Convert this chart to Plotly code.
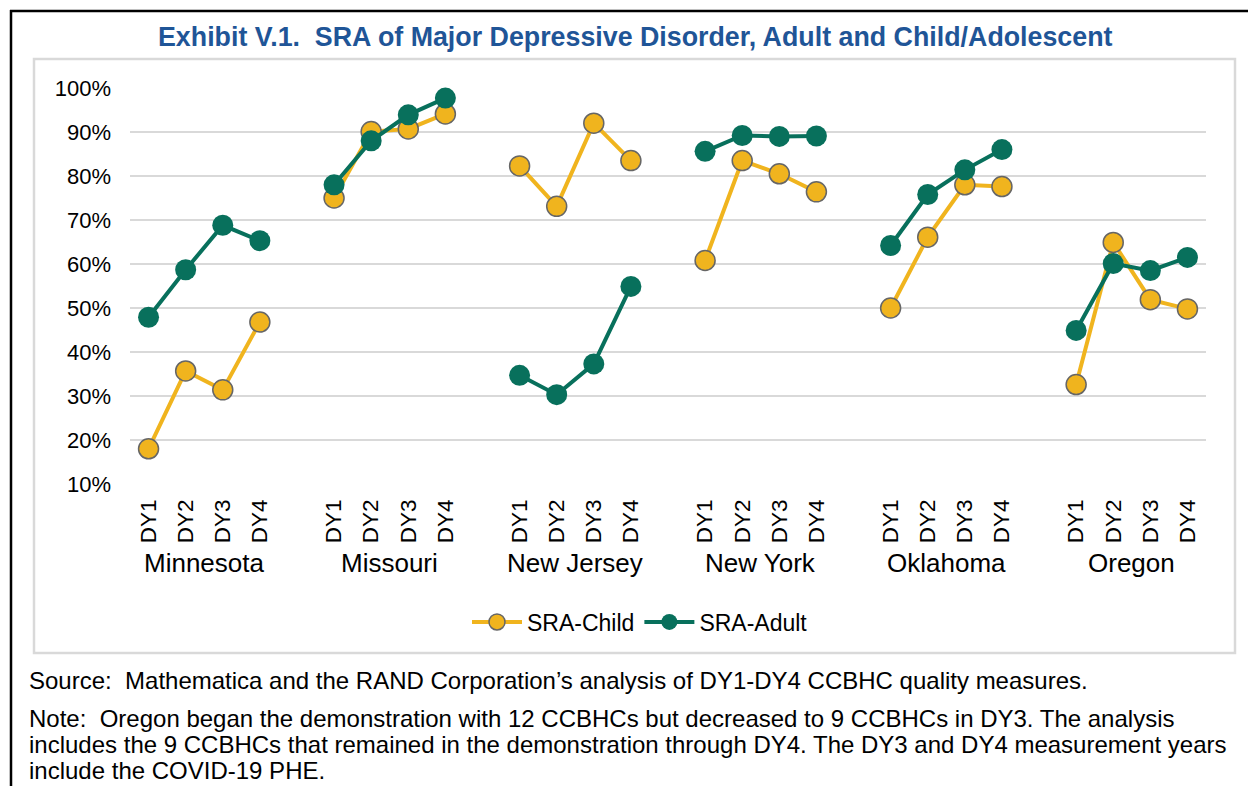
import plotly.graph_objects as go

# ---------------- data ----------------
states = ["Minnesota", "Missouri", "New Jersey", "New York", "Oklahoma", "Oregon"]
years = ["DY1", "DY2", "DY3", "DY4"]
sra_child = {
    "Minnesota": [18.0, 35.7, 31.4, 46.8],
    "Missouri": [75.0, 90.1, 90.7, 94.1],
    "New Jersey": [82.3, 73.1, 92.0, 83.5],
    "New York": [60.8, 83.5, 80.5, 76.4],
    "Oklahoma": [50.0, 66.1, 78.0, 77.6],
    "Oregon": [32.6, 64.9, 51.9, 49.8],
}
sra_adult = {
    "Minnesota": [47.9, 58.7, 68.8, 65.3],
    "Missouri": [78.0, 88.0, 93.9, 97.7],
    "New Jersey": [34.7, 30.3, 37.3, 54.9],
    "New York": [85.6, 89.2, 89.0, 89.1],
    "Oklahoma": [64.2, 75.8, 81.4, 86.0],
    "Oregon": [44.9, 60.1, 58.5, 61.5],
}
y_ticks = [10, 20, 30, 40, 50, 60, 70, 80, 90, 100]
y_tick_labels = ["10%", "20%", "30%", "40%", "50%", "60%", "70%", "80%", "90%", "100%"]

title_text = "Exhibit V.1.  SRA of Major Depressive Disorder, Adult and Child/Adolescent"
source_text = "Source:  Mathematica and the RAND Corporation\u2019s analysis of DY1-DY4 CCBHC quality measures."
note_lines = [
    "Note:  Oregon began the demonstration with 12 CCBHCs but decreased to 9 CCBHCs in DY3. The analysis",
    "includes the 9 CCBHCs that remained in the demonstration through DY4. The DY3 and DY4 measurement years",
    "include the COVID-19 PHE.",
]

# ---------------- layout constants (pixels) ----------------
W, H = 1248, 786
PL, PR, PT, PB = 130, 1206, 88, 484  # plot area edges in px
FONT = "Arial, 'Liberation Sans', sans-serif"
GOLD = "#F0B41E"
GREEN = "#08705C"
GRID = "#D9D9D9"
SLOT = len(years) + 1


def px_x(p):
    return (p - PL) / (PR - PL)


def px_y(p):
    return (PB - p) / (PB - PT)


def build(series):
    xs, ys = [], []
    for si, st in enumerate(states):
        for yi, v in enumerate(series[st]):
            xs.append(si * SLOT + yi)
            ys.append(v)
        xs.append(si * SLOT + len(years))
        ys.append(None)
    return xs, ys


cx, cy = build(sra_child)
ax_, ay = build(sra_adult)

fig = go.Figure()
fig.add_trace(go.Scatter(
    x=cx, y=cy, name="SRA-Child", mode="lines+markers", connectgaps=False,
    line=dict(color=GOLD, width=4),
    marker=dict(size=20, color=GOLD, line=dict(color="#666666", width=1.5)),
    cliponaxis=False,
))
fig.add_trace(go.Scatter(
    x=ax_, y=ay, name="SRA-Adult", mode="lines+markers", connectgaps=False,
    line=dict(color=GREEN, width=4),
    marker=dict(size=21, color=GREEN, line=dict(color=GREEN, width=0)),
    cliponaxis=False,
))

tickvals, ticktext = [], []
for si, st in enumerate(states):
    for yi, yr in enumerate(years):
        tickvals.append(si * SLOT + yi)
        ticktext.append(yr)

annotations = []
for si, st in enumerate(states):
    annotations.append(dict(
        x=si * SLOT + (len(years) - 1) / 2, y=px_y(563), xref="x", yref="paper",
        text=st, showarrow=False, xanchor="center", yanchor="middle",
        font=dict(family=FONT, size=26, color="#000000"),
    ))

annotations.append(dict(
    x=px_x(635), y=px_y(37), xref="paper", yref="paper", text="<b>" + title_text + "</b>",
    showarrow=False, xanchor="center", yanchor="middle",
    font=dict(family=FONT, size=26.8, color="#1F5597"),
))
annotations.append(dict(
    x=px_x(27), y=px_y(680), xref="paper", yref="paper", text=source_text,
    showarrow=False, xanchor="left", yanchor="middle",
    font=dict(family=FONT, size=24, color="#000000"),
))
for i, ln in enumerate(note_lines):
    annotations.append(dict(
        x=px_x(27), y=px_y(718 + 26 * i), xref="paper", yref="paper", text=ln,
        showarrow=False, xanchor="left", yanchor="middle",
        font=dict(family=FONT, size=24, color="#000000"),
    ))

shapes = [
    # inner light-gray chart frame
    dict(type="rect", xref="paper", yref="paper",
         x0=px_x(34), x1=px_x(1235), y0=px_y(653), y1=px_y(59),
         line=dict(color=GRID, width=2.5), fillcolor="rgba(0,0,0,0)", layer="below"),
    # outer black frame (top and left edges visible)
    dict(type="line", xref="paper", yref="paper",
         x0=px_x(10), x1=px_x(1250), y0=px_y(11), y1=px_y(11),
         line=dict(color="#000000", width=2.5)),
    dict(type="line", xref="paper", yref="paper",
         x0=px_x(11), x1=px_x(11), y0=px_y(10), y1=px_y(790),
         line=dict(color="#000000", width=2.5)),
]

fig.update_layout(
    width=W, height=H,
    margin=dict(l=PL, r=W - PR, t=PT, b=H - PB, pad=0),
    paper_bgcolor="white", plot_bgcolor="white",
    font=dict(family=FONT, size=22, color="#000000"),
    showlegend=True,
    legend=dict(orientation="h", x=px_x(640), xanchor="center", y=px_y(622), yanchor="middle",
                font=dict(family=FONT, size=23, color="#000000"), bgcolor="rgba(0,0,0,0)",
                itemwidth=50),
    annotations=annotations,
    shapes=shapes,
    xaxis=dict(range=[-0.5, len(states) * SLOT - 1.5], tickmode="array", tickvals=tickvals,
               ticktext=ticktext, tickangle=-90, showgrid=False, zeroline=False, showline=False,
               ticks="", ticklabelstandoff=10, tickfont=dict(family=FONT, size=22.5, color="#000000")),
    yaxis=dict(range=[10, 100], tickmode="array", tickvals=y_ticks, ticktext=y_tick_labels,
               showgrid=True, gridcolor=GRID, gridwidth=2, zeroline=False, showline=False,
               ticks="", ticklabelstandoff=18, tickfont=dict(family=FONT, size=22, color="#000000")),
)

fig.write_html(
    "out.html",
    config={"displayModeBar": False},
    post_script="document.body.style.margin='0';document.body.style.overflow='hidden';",
)
